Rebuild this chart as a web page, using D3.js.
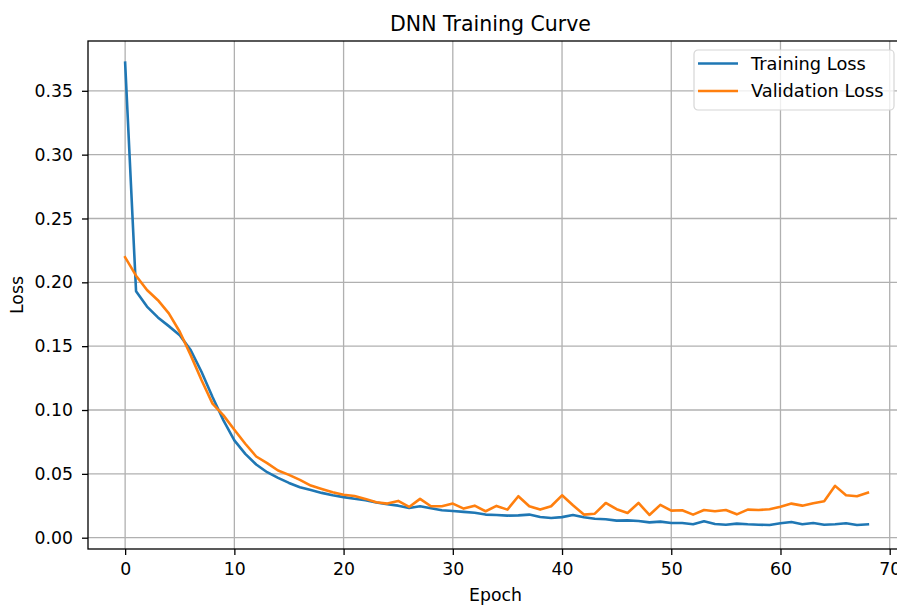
<!DOCTYPE html>
<html>
<head>
<meta charset="utf-8">
<script src="https://cdn.jsdelivr.net/npm/d3@7"></script>
<style>
  body { margin: 0; background: #fff; }
  svg { display: block; font-family: "DejaVu Sans", sans-serif; }
</style>
</head>
<body>
<div id="chart"></div>
<script>
// epochs 0..68
const epochs = d3.range(0, 69);

const trainingLoss = [
  0.372, 0.193, 0.181, 0.1725, 0.1657, 0.1586, 0.1469, 0.1298, 0.1102, 0.0919,
  0.0762, 0.0657, 0.0573, 0.0513, 0.0469, 0.0429, 0.0395, 0.0374, 0.0351, 0.0332,
  0.0318, 0.0305, 0.0293, 0.0275, 0.0262, 0.0251, 0.0233, 0.0246, 0.023, 0.0215,
  0.0209, 0.0202, 0.0196, 0.0181, 0.0178, 0.0173, 0.0175, 0.0181, 0.0162, 0.0154,
  0.0161, 0.0178, 0.016, 0.0149, 0.0144, 0.0134, 0.0136, 0.0131, 0.012, 0.0126,
  0.0115, 0.0115, 0.0105, 0.0128, 0.0107, 0.0102, 0.011, 0.0105, 0.0102, 0.0099,
  0.0113, 0.0123, 0.0105, 0.0115, 0.0102, 0.0105, 0.0113, 0.0099, 0.0105
];

const validationLoss = [
  0.2196, 0.2052, 0.194, 0.186, 0.1757, 0.1613, 0.143, 0.1233, 0.105, 0.0958,
  0.0845, 0.0736, 0.0636, 0.0584, 0.0526, 0.0492, 0.0453, 0.0408, 0.0382, 0.0356,
  0.0336, 0.0327, 0.0304, 0.0277, 0.0267, 0.0288, 0.0241, 0.0304, 0.0246, 0.0246,
  0.0267, 0.0228, 0.0251, 0.0207, 0.0249, 0.022, 0.0325, 0.0246, 0.022, 0.0246,
  0.0332, 0.0254, 0.0181, 0.0188, 0.0272, 0.0223, 0.0194, 0.0272, 0.0178, 0.0257,
  0.0212, 0.0215, 0.0181, 0.0217, 0.0207, 0.0217, 0.0183, 0.022, 0.0217, 0.0223,
  0.0243, 0.0267, 0.0251, 0.027, 0.0285, 0.0406, 0.0332, 0.0325, 0.0353
];

const xTicks = [0, 10, 20, 30, 40, 50, 60, 70];
const yTicks = [0, 0.05, 0.10, 0.15, 0.20, 0.25, 0.30, 0.35];

const seriesNames = ["Training Loss", "Validation Loss"];
const seriesColors = ["#1f77b4", "#ff7f0e"];

const width = 897, height = 608;
const margin = { top: 41, left: 88, right: -8, bottom: 59 };
const innerW = width - margin.left - margin.right;
const innerH = height - margin.top - margin.bottom;

const svg = d3.select("#chart").append("svg")
    .attr("width", width)
    .attr("height", height);

const g = svg.append("g")
    .attr("transform", `translate(${margin.left},${margin.top})`);

const x = d3.scaleLinear().domain([-3.4, 71.4]).range([0, innerW]);
const y = d3.scaleLinear().domain([-0.00885, 0.389]).range([innerH, 0]);

// grid
g.append("g")
    .selectAll("line.vgrid")
    .data(xTicks)
    .enter().append("line")
    .attr("x1", d => x(d)).attr("x2", d => x(d))
    .attr("y1", 0).attr("y2", innerH)
    .attr("stroke", "#b0b0b0")
    .attr("stroke-width", 1.3);

g.append("g")
    .selectAll("line.hgrid")
    .data(yTicks)
    .enter().append("line")
    .attr("x1", 0).attr("x2", innerW)
    .attr("y1", d => y(d)).attr("y2", d => y(d))
    .attr("stroke", "#b0b0b0")
    .attr("stroke-width", 1.3);

// lines
const series = [trainingLoss, validationLoss];
const line = d3.line()
    .x((d, i) => x(epochs[i]))
    .y(d => y(d));

series.forEach((s, i) => {
    g.append("path")
        .datum(s)
        .attr("fill", "none")
        .attr("stroke", seriesColors[i])
        .attr("stroke-width", 2.6)
        .attr("stroke-linejoin", "round")
        .attr("stroke-linecap", "square")
        .attr("d", line);
});

// spines
g.append("rect")
    .attr("x", 0).attr("y", 0)
    .attr("width", innerW).attr("height", innerH)
    .attr("fill", "none")
    .attr("stroke", "#000")
    .attr("stroke-width", 1.3);

// axes
const xAxis = g.append("g")
    .attr("transform", `translate(0,${innerH})`)
    .call(d3.axisBottom(x).tickValues(xTicks).tickSize(6).tickSizeOuter(0).tickPadding(8));

const yAxis = g.append("g")
    .call(d3.axisLeft(y).tickValues(yTicks).tickFormat(d3.format(".2f")).tickSize(6).tickSizeOuter(0).tickPadding(9));

[xAxis, yAxis].forEach(a => {
    a.select(".domain").remove();
    a.selectAll(".tick line").attr("stroke", "#000").attr("stroke-width", 1.3);
    a.selectAll(".tick text")
        .attr("fill", "#000")
        .style("font-size", "17.3px")
        .style("font-family", "DejaVu Sans, sans-serif");
});

// title and labels
svg.append("text")
    .attr("x", margin.left + innerW / 2 - 6)
    .attr("y", 31)
    .attr("text-anchor", "middle")
    .style("font-size", "20.5px")
    .attr("fill", "#000")
    .text("DNN Training Curve");

svg.append("text")
    .attr("x", margin.left + innerW / 2 - 1)
    .attr("y", 601)
    .attr("text-anchor", "middle")
    .style("font-size", "17.3px")
    .attr("fill", "#000")
    .text("Epoch");

svg.append("text")
    .attr("transform", `translate(23,${margin.top + innerH / 2}) rotate(-90)`)
    .attr("text-anchor", "middle")
    .style("font-size", "17.3px")
    .attr("fill", "#000")
    .text("Loss");

// legend
const legend = svg.append("g").attr("transform", "translate(694,50)");

legend.append("rect")
    .attr("width", 200).attr("height", 60)
    .attr("rx", 4)
    .attr("fill", "#fff").attr("fill-opacity", 0.8)
    .attr("stroke", "#d6d6d6").attr("stroke-width", 1.2);

const legendItem = legend.selectAll(".legend-item")
    .data(seriesNames)
    .enter().append("g")
    .attr("class", "legend-item")
    .attr("transform", (d, i) => `translate(0,${13.5 + i * 27.5})`);

legendItem.append("line")
    .attr("x1", 4).attr("x2", 44)
    .attr("stroke", (d, i) => seriesColors[i])
    .attr("stroke-width", 2.6);

legendItem.append("text")
    .attr("x", 57)
    .attr("y", 6)
    .style("font-size", "17.8px")
    .attr("fill", "#000")
    .text(d => d);
</script>
</body>
</html>
